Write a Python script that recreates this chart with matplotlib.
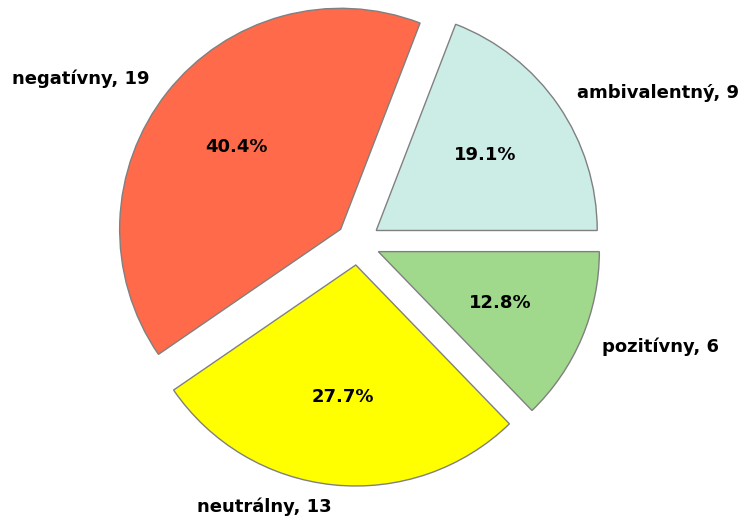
import matplotlib
matplotlib.use("Agg")
import matplotlib.pyplot as plt

labels = ["ambivalentný", "negatívny", "neutrálny", "pozitívny"]
counts = [9, 19, 13, 6]
colors = ["#ccece6", "#fe6a4a", "#ffff00", "#a1d98c"]
explode = [0.1, 0.1, 0.1, 0.1]

W, H = 744, 520
fig = plt.figure(figsize=(W / 100, H / 100), dpi=100)
R = 221.0
cx, cy = 358.0, 243.0
side = 2.5 * R
ax = fig.add_axes([(cx - side / 2) / W, (H - cy - side / 2) / H, side / W, side / H])

wedges, texts, autotexts = ax.pie(
    counts,
    labels=[f"{l}, {c}" for l, c in zip(labels, counts)],
    colors=colors,
    explode=explode,
    startangle=0,
    autopct="%1.1f%%",
    wedgeprops=dict(edgecolor="grey", linewidth=1),
    textprops=dict(fontsize=13, fontweight="bold"),
)
ax.set_xlim(-1.25, 1.25)
ax.set_ylim(-1.25, 1.25)
ax.set_aspect("equal")

fig.savefig("out.png", dpi=100)
